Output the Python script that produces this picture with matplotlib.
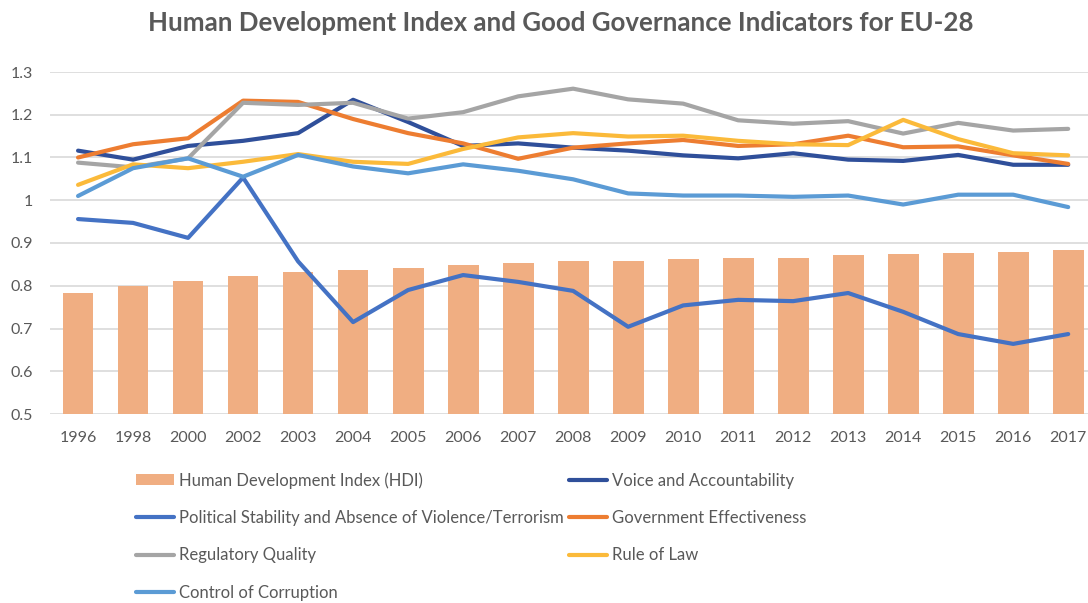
import numpy as np
import matplotlib
matplotlib.use("Agg")
import matplotlib.pyplot as plt
from matplotlib.patches import Patch
from matplotlib.lines import Line2D

# Data
years = ["1996", "1998", "2000", "2002", "2003", "2004", "2005", "2006", "2007", "2008",
         "2009", "2010", "2011", "2012", "2013", "2014", "2015", "2016", "2017"]
hdi = [0.784, 0.799, 0.810, 0.822, 0.831, 0.836, 0.842, 0.848, 0.853, 0.857,
       0.857, 0.862, 0.865, 0.865, 0.871, 0.874, 0.877, 0.880, 0.883]
voice = [1.116, 1.095, 1.127, 1.139, 1.157, 1.235, 1.183, 1.127, 1.133, 1.123,
         1.116, 1.105, 1.098, 1.110, 1.095, 1.092, 1.106, 1.083, 1.083]
political = [0.956, 0.947, 0.912, 1.053, 0.857, 0.715, 0.790, 0.825, 0.809, 0.788,
             0.704, 0.754, 0.767, 0.764, 0.783, 0.739, 0.687, 0.664, 0.687]
gov_eff = [1.100, 1.131, 1.145, 1.233, 1.230, 1.190, 1.157, 1.133, 1.097, 1.123,
           1.133, 1.141, 1.127, 1.131, 1.151, 1.124, 1.126, 1.105, 1.085]
regulatory = [1.088, 1.077, 1.098, 1.228, 1.223, 1.228, 1.191, 1.206, 1.243, 1.261,
              1.236, 1.226, 1.187, 1.179, 1.185, 1.156, 1.181, 1.163, 1.167]
rule_of_law = [1.036, 1.084, 1.075, 1.090, 1.108, 1.090, 1.085, 1.120, 1.147, 1.157,
               1.149, 1.151, 1.139, 1.131, 1.129, 1.188, 1.143, 1.110, 1.105]
corruption = [1.010, 1.075, 1.098, 1.055, 1.106, 1.079, 1.063, 1.084, 1.069, 1.049,
              1.016, 1.011, 1.011, 1.008, 1.011, 0.990, 1.013, 1.013, 0.984]
y_ticks = [0.5, 0.6, 0.7, 0.8, 0.9, 1.0, 1.1, 1.2, 1.3]
y_tick_labels = ["0.5", "0.6", "0.7", "0.8", "0.9", "1", "1.1", "1.2", "1.3"]

plt.rcParams['font.family'] = ['Lato', 'DejaVu Sans']
text_col = "#595959"

fig = plt.figure(figsize=(10.88, 6.03), dpi=100)
ax = fig.add_axes([50 / 1088, 189 / 603, 1038 / 1088, 342 / 603])

x = np.arange(len(years))
ax.bar(x, hdi, width=0.56, color="#F0AE82", zorder=2)

lw = 3.0
ax.plot(x, voice, color="#2F4F9A", lw=lw, zorder=3, solid_capstyle="round")
ax.plot(x, political, color="#4472C4", lw=lw, zorder=3, solid_capstyle="round")
ax.plot(x, gov_eff, color="#ED7D31", lw=lw, zorder=3, solid_capstyle="round")
ax.plot(x, regulatory, color="#A5A5A5", lw=lw, zorder=3, solid_capstyle="round")
ax.plot(x, rule_of_law, color="#FBBA3A", lw=lw, zorder=3, solid_capstyle="round")
ax.plot(x, corruption, color="#5B9BD5", lw=lw, zorder=3, solid_capstyle="round")

ax.set_ylim(0.5, 1.3)
ax.set_xlim(-0.51, 18.36)
ax.set_yticks(y_ticks)
ax.set_yticklabels(y_tick_labels)
ax.set_xticks(x)
ax.set_xticklabels(years)
ax.yaxis.grid(True, color="#D9D9D9", lw=1.2, zorder=0)
ax.set_axisbelow(True)
for s in ax.spines.values():
    s.set_visible(False)
ax.tick_params(axis="both", length=0, labelsize=11.5, colors=text_col)
ax.tick_params(axis="y", pad=12)
ax.tick_params(axis="x", pad=12)

fig.text(561 / 1088, 1 - 23 / 603, "Human Development Index and Good Governance Indicators for EU-28",
         ha="center", va="center", fontsize=18.6, fontweight="bold", color=text_col)

# legend: column-major order so rows read HDI/Voice, Political/Gov, ...
handles = [
    Patch(facecolor="#F0AE82", edgecolor="none"),
    Line2D([], [], color="#4472C4", lw=lw, solid_capstyle="round"),
    Line2D([], [], color="#A5A5A5", lw=lw, solid_capstyle="round"),
    Line2D([], [], color="#5B9BD5", lw=lw, solid_capstyle="round"),
    Line2D([], [], color="#2F4F9A", lw=lw, solid_capstyle="round"),
    Line2D([], [], color="#ED7D31", lw=lw, solid_capstyle="round"),
    Line2D([], [], color="#FBBA3A", lw=lw, solid_capstyle="round"),
]
labels = [
    "Human Development Index (HDI)",
    "Political Stability and Absence of Violence/Terrorism",
    "Regulatory Quality",
    "Control of Corruption",
    "Voice and Accountability",
    "Government Effectiveness",
    "Rule of Law",
]
leg = fig.legend(handles, labels, ncol=2, loc="upper left",
                 bbox_to_anchor=(136 / 1088, 1 - 472 / 603),
                 frameon=False, fontsize=12, handlelength=2.3, handleheight=0.6,
                 handletextpad=0.3, columnspacing=0.3, labelspacing=1.28,
                 borderpad=0, borderaxespad=0)
for t in leg.get_texts():
    t.set_color(text_col)

fig.savefig("out.png", dpi=100)
